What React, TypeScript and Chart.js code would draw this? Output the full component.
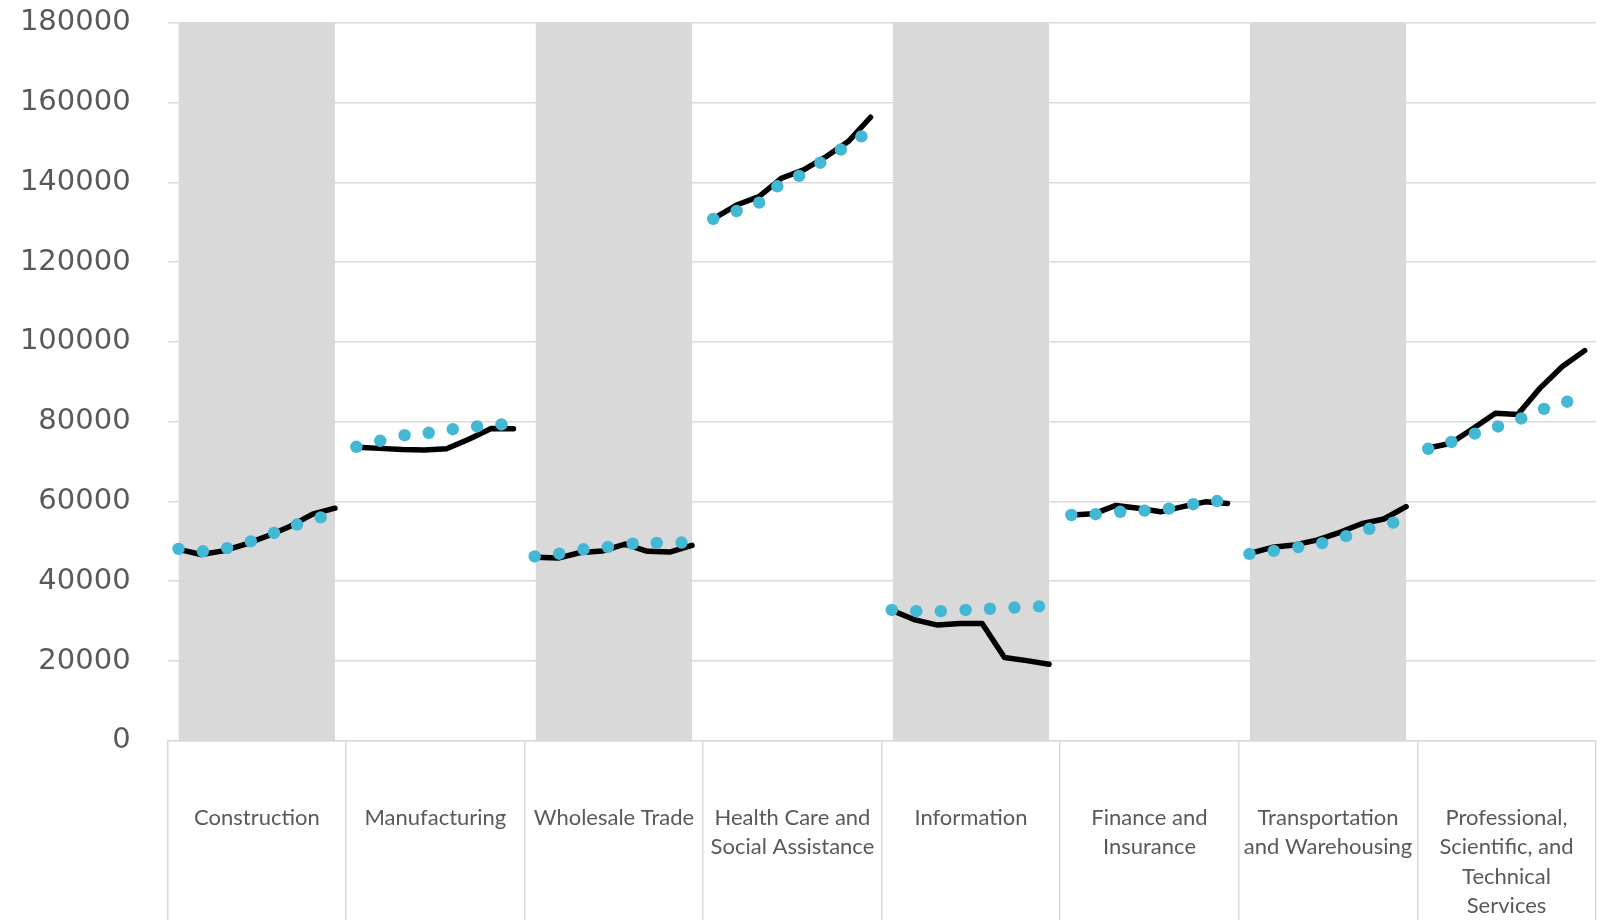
import React, { useEffect, useRef } from "react";
import { Chart, registerables } from "chart.js";

Chart.register(...registerables);

// ---------- data ----------
const categories: string[][] = [
  ["Construction"],
  ["Manufacturing"],
  ["Wholesale Trade"],
  ["Health Care and", "Social Assistance"],
  ["Information"],
  ["Finance and", "Insurance"],
  ["Transportation", "and Warehousing"],
  ["Professional,", "Scientific, and", "Technical", "Services"],
];

const shadedGroups = [true, false, true, false, true, false, true, false];
const bandValue = 180000;

const yMin = 0;
const yMax = 180000;
const yStep = 20000;

const periodsPerGroup = 8;

// black line series (8 sub-periods per industry)
const lineConstruction = [48000, 46700, 47600, 49300, 51400, 53800, 56800, 58300];
const lineManufacturing = [73600, 73300, 73000, 72900, 73200, 75600, 78300, 78200];
const lineWholesale = [46000, 45800, 47200, 47600, 49300, 47500, 47300, 49000];
const lineHealth = [131000, 134300, 136400, 141000, 143100, 146400, 150200, 156300];
const lineInformation = [32600, 30300, 29000, 29400, 29400, 20900, 20100, 19200];
const lineFinance = [56600, 56900, 59000, 58300, 57400, 58700, 59900, 59500];
const lineTransportation = [47000, 48500, 49100, 50300, 52200, 54400, 55600, 58700];
const lineProfessional = [73400, 74600, 78300, 82100, 81800, 88400, 93800, 97800];

// blue dot series
const dotsConstruction = [48100, 47500, 48300, 50000, 52100, 54200, 56000];
const dotsManufacturing = [73700, 75200, 76600, 77200, 78100, 78800, 79300];
const dotsWholesale = [46200, 46900, 48000, 48600, 49400, 49600, 49700];
const dotsHealth = [130800, 132800, 134900, 139000, 141600, 144900, 148200, 151500];
const dotsInformation = [32800, 32500, 32500, 32800, 33100, 33400, 33700];
const dotsFinance = [56600, 56800, 57400, 57700, 58200, 59300, 60100];
const dotsTransportation = [46850, 47600, 48550, 49550, 51300, 53150, 54700];
const dotsProfessional = [73200, 74900, 77000, 78800, 80800, 83200, 85000];

// period position of each dot inside its industry (in sub-period units)
const dotPeriodsConstruction = [0.49, 1.58, 2.67, 3.73, 4.77, 5.8, 6.86];
const dotPeriodsManufacturing = [0.46, 1.53, 2.62, 3.7, 4.78, 5.87, 6.96];
const dotPeriodsWholesale = [0.45, 1.55, 2.64, 3.73, 4.84, 5.92, 7.03];
const dotPeriodsHealth = [0.45, 1.5, 2.51, 3.32, 4.3, 5.25, 6.17, 7.09];
const dotPeriodsInformation = [0.45, 1.55, 2.65, 3.76, 4.85, 5.95, 7.05];
const dotPeriodsFinance = [0.5, 1.59, 2.69, 3.78, 4.87, 5.96, 7.03];
const dotPeriodsTransportation = [0.48, 1.57, 2.67, 3.74, 4.81, 5.85, 6.92];
const dotPeriodsProfessional = [0.49, 1.53, 2.58, 3.62, 4.66, 5.68, 6.72];

const lineSeries = [
  lineConstruction, lineManufacturing, lineWholesale, lineHealth,
  lineInformation, lineFinance, lineTransportation, lineProfessional,
];
const dotSeries = [
  dotsConstruction, dotsManufacturing, dotsWholesale, dotsHealth,
  dotsInformation, dotsFinance, dotsTransportation, dotsProfessional,
];
const dotPeriods = [
  dotPeriodsConstruction, dotPeriodsManufacturing, dotPeriodsWholesale, dotPeriodsHealth,
  dotPeriodsInformation, dotPeriodsFinance, dotPeriodsTransportation, dotPeriodsProfessional,
];

// ---------- styles ----------
const GRID = "#d9d9d9";
const TEXT = "#595959";
const BAND = "#d9d9d9";
const DOT = "#42b8d4";
const LINE = "#000000";

export default function App() {
  const ref = useRef<HTMLCanvasElement | null>(null);

  useEffect(() => {
    if (!ref.current) return;

    const catLabels = categories.map((c) => c.join(" "));
    const subLabels: string[] = [];
    const lineData: number[] = [];
    lineSeries.forEach((s, g) => {
      s.forEach((v, i) => {
        subLabels.push(catLabels[g] + " " + (i + 1));
        lineData.push(v);
      });
    });
    const dotData: { x: number; y: number }[] = [];
    dotSeries.forEach((s, g) => {
      s.forEach((v, i) => {
        dotData.push({ x: g * periodsPerGroup + dotPeriods[g][i], y: v });
      });
    });
    const bandData = shadedGroups.map((s) => (s ? bandValue : null));

    const chart = new Chart(ref.current, {
      data: {
        labels: categories as any,
        datasets: [
          {
            type: "scatter",
            data: dotData,
            xAxisID: "xv",
            yAxisID: "y",
            pointRadius: 6.2,
            pointHoverRadius: 6.2,
            pointBackgroundColor: DOT,
            pointBorderWidth: 0,
            showLine: false,
            order: 0,
          } as any,
          {
            type: "line",
            data: lineData,
            xAxisID: "sub",
            yAxisID: "y",
            borderColor: LINE,
            borderWidth: 5.5,
            pointRadius: 0,
            tension: 0,
            borderJoinStyle: "round",
            borderCapStyle: "round",
            segment: {
              borderColor: (ctx: any) =>
                ctx.p0DataIndex % periodsPerGroup === periodsPerGroup - 1 ? "rgba(0,0,0,0)" : LINE,
            },
            order: 1,
          } as any,
          {
            type: "bar",
            data: bandData,
            xAxisID: "x",
            yAxisID: "y",
            backgroundColor: BAND,
            borderWidth: 0,
            grouped: false,
            barPercentage: 7 / 8,
            categoryPercentage: 1,
            order: 2,
          } as any,
        ],
      },
      options: {
        responsive: false,
        animation: false,
        devicePixelRatio: 1,
        layout: { padding: { top: 22.7, right: 6, bottom: 0, left: 0 } },
        plugins: { legend: { display: false }, tooltip: { enabled: false } },
        scales: {
          x: {
            type: "category",
            position: "bottom",
            offset: true,
            grid: {
              offset: true,
              drawOnChartArea: false,
              drawTicks: true,
              tickLength: 180,
              color: GRID,
              lineWidth: 1.5,
            },
            border: { display: true, color: GRID, width: 1.5 },
            ticks: {
              padding: -117.5,
              color: TEXT,
              autoSkip: false,
              maxRotation: 0,
              minRotation: 0,
              font: { family: "Lato", size: 22, lineHeight: 1.333 },
            },
            afterFit: (s: any) => {
              s.height = 179.2;
            },
          },
          sub: {
            type: "category",
            labels: subLabels,
            offset: true,
            display: false,
          },
          xv: {
            type: "linear",
            min: 0,
            max: lineSeries.length * periodsPerGroup,
            display: false,
          },
          y: {
            type: "linear",
            min: yMin,
            max: yMax,
            ticks: {
              stepSize: yStep,
              padding: 0,
              color: TEXT,
              font: { family: "DejaVu Sans", size: 29 },
              callback: (v: any) => String(v),
            },
            grid: {
              color: GRID,
              lineWidth: 1.5,
              drawTicks: true,
              tickLength: 37,
              tickColor: "rgba(0,0,0,0)",
            },
            border: { display: false },
            afterFit: (s: any) => {
              s.width = 167.6;
            },
          },
        },
      } as any,
    });

    return () => chart.destroy();
  }, []);

  return (
    <div style={{ position: "absolute", left: 0, top: 0, width: 1602, height: 920, background: "#fff" }}>
      <canvas ref={ref} width={1602} height={920} style={{ display: "block" }} />
    </div>
  );
}
